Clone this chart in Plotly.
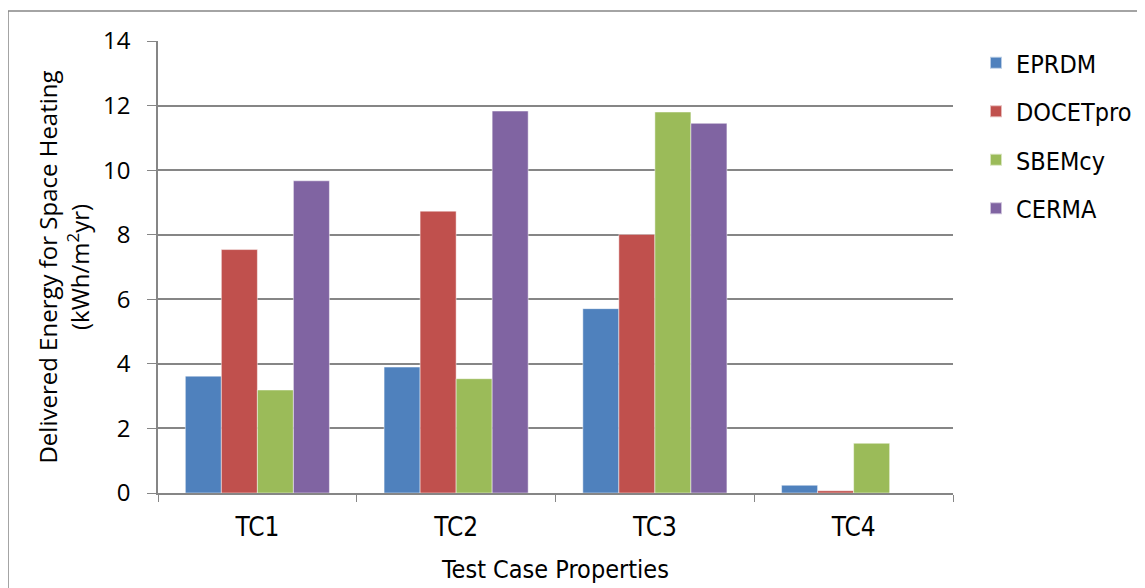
import plotly.graph_objects as go

categories = ["TC1", "TC2", "TC3", "TC4"]
series_names = ["EPRDM", "DOCETpro", "SBEMcy", "CERMA"]
eprdm = [3.62, 3.90, 5.71, 0.24]
docetpro = [7.54, 8.73, 8.01, 0.07]
sbemcy = [3.19, 3.54, 11.80, 1.54]
cerma = [9.67, 11.83, 11.45, 0.0]
colors = ["#4F81BD", "#C0504D", "#9BBB59", "#8064A2"]
y_ticks = [0, 2, 4, 6, 8, 10, 12, 14]

OFF = 8  # page body margin
W, H = 1145 - OFF, 588 - OFF
# screen coordinates of plot area
SX0, SX1, SY0, SY1 = 158, 953, 41, 493
L, T = SX0 - OFF, SY0 - OFF
pw, ph = SX1 - SX0, SY1 - SY0
R, B = W - L - pw, H - T - ph

def px(sx):
    return (sx - SX0) / pw

def py(sy):
    return (SY1 - sy) / ph

fig = go.Figure()
for name, vals, col in zip(series_names, [eprdm, docetpro, sbemcy, cerma], colors):
    fig.add_trace(go.Bar(x=categories, y=vals, name=name, marker_color=col, legendgroup=name,
                         marker_line=dict(color="rgba(255,255,255,0.6)", width=0.8)))

narrow = "Liberation Sans Narrow, DejaVu Sans Condensed, Arial Narrow, sans-serif"
fig.update_layout(
    width=W, height=H,
    margin=dict(l=L, r=R, t=T, b=B, autoexpand=False),
    paper_bgcolor="white", plot_bgcolor="white",
    barmode="group", bargap=0.275, bargroupgap=0,
    showlegend=True,
    legend=dict(x=px(976), y=py(40), xanchor="left", yanchor="top",
                font=dict(family=narrow, size=25, color="black"),
                traceorder="grouped", tracegroupgap=13, itemsizing="constant",
                bgcolor="rgba(0,0,0,0)"),
    font=dict(family="Open Sans, sans-serif", color="black"),
    xaxis=dict(
        tickson="boundaries", ticks="outside", ticklen=7, tickcolor="#868686",
        showline=True, linecolor="#868686", linewidth=1.5,
        tickfont=dict(family=narrow, size=26, color="black"),
        ticklabelstandoff=10,
        title=dict(text="Test Case Properties", font=dict(family=narrow, size=25, color="black"), standoff=20),
        showgrid=False,
    ),
    yaxis=dict(
        range=[0, 14], tickvals=y_ticks, ticks="outside", ticklen=9, tickcolor="#868686",
        showline=True, linecolor="#868686", linewidth=1.5,
        showgrid=True, gridcolor="#868686", gridwidth=1.5,
        zeroline=False,
        ticklabelstandoff=12,
        tickfont=dict(family="Open Sans, sans-serif", size=24, color="black"),
        title=dict(text="Delivered Energy for Space Heating<br>(kWh/m<sup>2</sup>yr)",
                   font=dict(family="Open Sans, sans-serif", size=24, color="black"), standoff=7),
    ),
    shapes=[dict(type="rect", xref="paper", yref="paper",
                 x0=px(8), x1=px(1141), y0=py(610), y1=py(11),
                 line=dict(color="#868686", width=1.5), fillcolor="rgba(0,0,0,0)", layer="below")],
)

fig.write_html("out.html")
